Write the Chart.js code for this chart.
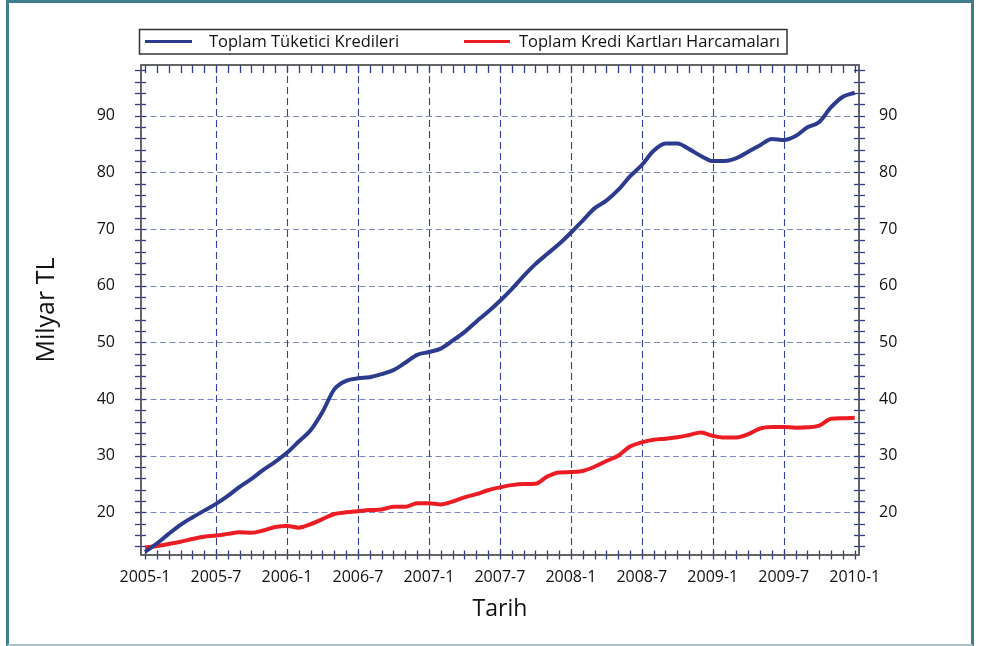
<!DOCTYPE html>
<html>
<head>
<meta charset="utf-8">
<script src="https://cdn.jsdelivr.net/npm/chart.js@4.4.1/dist/chart.umd.min.js"></script>
<style>
html,body{margin:0;padding:0;background:#fff;}
#wrap{width:983px;height:646px;position:relative;}
</style>
</head>
<body>
<div id="wrap"><canvas id="c" width="983" height="646"></canvas></div>
<script>
// ---- DATA ----
const months = [
  "2005-1","2005-2","2005-3","2005-4","2005-5","2005-6","2005-7","2005-8","2005-9","2005-10","2005-11","2005-12",
  "2006-1","2006-2","2006-3","2006-4","2006-5","2006-6","2006-7","2006-8","2006-9","2006-10","2006-11","2006-12",
  "2007-1","2007-2","2007-3","2007-4","2007-5","2007-6","2007-7","2007-8","2007-9","2007-10","2007-11","2007-12",
  "2008-1","2008-2","2008-3","2008-4","2008-5","2008-6","2008-7","2008-8","2008-9","2008-10","2008-11","2008-12",
  "2009-1","2009-2","2009-3","2009-4","2009-5","2009-6","2009-7","2009-8","2009-9","2009-10","2009-11","2009-12",
  "2010-1"
];
const consumerLoans = [
  13.0,14.5,16.2,17.8,19.1,20.3,21.5,22.9,24.5,25.9,27.5,28.9,
  30.5,32.5,34.5,37.7,41.7,43.2,43.65,43.85,44.4,45.1,46.4,47.8,
  48.3,48.9,50.3,51.8,53.65,55.4,57.3,59.4,61.7,63.8,65.6,67.35,
  69.35,71.5,73.65,75.0,76.9,79.3,81.3,83.8,85.1,85.1,84.1,82.9,
  82.0,82.0,82.5,83.65,84.8,85.9,85.7,86.4,87.95,88.9,91.5,93.35,
  94.05
];
const cardSpending = [
  13.8,14.05,14.4,14.8,15.3,15.7,15.9,16.2,16.5,16.4,16.8,17.4,
  17.6,17.3,17.9,18.8,19.7,20.0,20.2,20.4,20.5,21.0,21.0,21.6,
  21.6,21.4,21.9,22.65,23.2,23.9,24.4,24.8,25.0,25.05,26.3,27.05,
  27.1,27.3,28.05,29.05,30.0,31.6,32.35,32.8,33.0,33.25,33.65,34.1,
  33.5,33.2,33.2,33.8,34.8,35.05,35.05,34.95,35.0,35.3,36.5,36.6,
  36.7
];
const seriesNames = ["Toplam Tüketici Kredileri","Toplam Kredi Kartları Harcamaları"];
const xTickLabels = ["2005-1","2005-7","2006-1","2006-7","2007-1","2007-7","2008-1","2008-7","2009-1","2009-7","2010-1"];
const yTickValues = [20,30,40,50,60,70,80,90];
const yMinorValues = [14,16,18,20,22,24,26,28,30,32,34,36,38,40,42,44,46,48,50,52,54,56,58,60,62,64,66,68,70,72,74,76,78,80,82,84,86,88,90,92,94,96,98];

// ---- STYLE ----
const BLUE = '#2d3b8e';
const RED = '#ec1c24';
const FONT = '"Open Sans", "DejaVu Sans", sans-serif';
const xTickPos = xTickLabels.map(l => months.indexOf(l));

const framePlugin = {
  id: 'framePlugin',
  beforeDatasetsDraw(chart) {
    const {ctx, chartArea: a, scales} = chart;
    const xs = scales.x, ys = scales.y;
    ctx.save();
    ctx.setLineDash([6,3.5]);
    ctx.lineWidth = 1.2;
    ctx.strokeStyle = '#7c86c2';
    yTickValues.forEach(v => {
      const y = Math.round(ys.getPixelForValue(v)) + 0.5;
      ctx.beginPath(); ctx.moveTo(a.left, y); ctx.lineTo(a.right, y); ctx.stroke();
    });
    ctx.setLineDash([7,4]);
    ctx.lineWidth = 1.1;
    ctx.strokeStyle = '#33419a';
    xTickPos.forEach((m, i) => {
      if (i === 0 || i === xTickPos.length - 1) return;
      const x = Math.round(xs.getPixelForValue(m)) + 0.5;
      ctx.beginPath(); ctx.moveTo(x, a.top); ctx.lineTo(x, a.bottom); ctx.stroke();
    });
    ctx.setLineDash([]);
    ctx.strokeStyle = '#2b3990';
    ctx.lineWidth = 1.3;
    months.forEach((lbl, m) => {
      const x = Math.round(xs.getPixelForValue(m)) + 0.5;
      ctx.beginPath(); ctx.moveTo(x, a.bottom - 4.5); ctx.lineTo(x, a.bottom + 4.5); ctx.stroke();
      ctx.beginPath(); ctx.moveTo(x, a.top); ctx.lineTo(x, a.top + 8); ctx.stroke();
    });
    yMinorValues.forEach(v => {
      const y = Math.round(ys.getPixelForValue(v)) + 0.5;
      ctx.beginPath(); ctx.moveTo(a.left - 6, y); ctx.lineTo(a.left + 5, y); ctx.stroke();
      ctx.beginPath(); ctx.moveTo(a.right - 5, y); ctx.lineTo(a.right + 6, y); ctx.stroke();
    });
    ctx.strokeStyle = '#555';
    ctx.lineWidth = 1.8;
    ctx.strokeRect(a.left, a.top, a.right - a.left, a.bottom - a.top);
    ctx.restore();
  },
  afterDraw(chart) {
    const {ctx} = chart;
    ctx.save();
    ctx.lineWidth = 3;
    ctx.strokeStyle = '#3f7c8e';
    ctx.beginPath();
    ctx.moveTo(7.5, 646); ctx.lineTo(7.5, 1.5); ctx.lineTo(972.5, 1.5); ctx.lineTo(972.5, 646);
    ctx.stroke();
    ctx.strokeStyle = '#a7c3cc';
    ctx.lineWidth = 2;
    ctx.beginPath(); ctx.moveTo(7.5, 645); ctx.lineTo(972.5, 645); ctx.stroke();
    ctx.strokeStyle = '#333';
    ctx.lineWidth = 1.5;
    ctx.strokeRect(139.5, 29.5, 647.5, 24.5);
    const ly = 41.5;
    const items = [
      {color: chart.data.datasets[0].borderColor, x0: 145, x1: 192, tx: 209, text: chart.data.datasets[0].label},
      {color: chart.data.datasets[1].borderColor, x0: 464, x1: 510, tx: 519, text: chart.data.datasets[1].label}
    ];
    ctx.font = '16.5px ' + FONT;
    ctx.textBaseline = 'middle';
    ctx.textAlign = 'left';
    items.forEach(it => {
      ctx.strokeStyle = it.color;
      ctx.lineWidth = 3;
      ctx.beginPath(); ctx.moveTo(it.x0, ly); ctx.lineTo(it.x1, ly); ctx.stroke();
      ctx.fillStyle = '#111';
      ctx.fillText(it.text, it.tx, ly + 1);
    });
    ctx.restore();
  }
};

const yCommon = {
  type: 'linear',
  min: 12.47,
  max: 98.95,
  afterBuildTicks: s => { s.ticks = yTickValues.map(v => ({value: v})); },
  grid: {display: false, drawTicks: false},
  border: {display: false},
  ticks: {color: '#111', font: {family: FONT, size: 16}}
};

new Chart(document.getElementById('c'), {
  type: 'line',
  data: {
    datasets: [
      {
        label: seriesNames[0],
        data: consumerLoans.map((v, i) => ({x: i, y: v})),
        borderColor: BLUE,
        borderWidth: 4,
        pointRadius: 0,
        cubicInterpolationMode: 'monotone',
        fill: false
      },
      {
        label: seriesNames[1],
        data: cardSpending.map((v, i) => ({x: i, y: v})),
        borderColor: RED,
        borderWidth: 4,
        pointRadius: 0,
        cubicInterpolationMode: 'monotone',
        fill: false
      }
    ]
  },
  options: {
    responsive: false,
    animation: false,
    devicePixelRatio: 1,
    layout: {padding: {top: 65, left: 0, right: 0, bottom: 0}},
    plugins: {legend: {display: false}, tooltip: {enabled: false}},
    scales: {
      x: {
        type: 'linear',
        position: 'bottom',
        min: -0.34,
        max: 60.36,
        afterBuildTicks: s => { s.ticks = xTickPos.map(v => ({value: v})); },
        afterFit: s => { s.height = 91; },
        grid: {display: false, drawTicks: false},
        border: {display: false},
        ticks: {
          autoSkip: false, maxRotation: 0, padding: 13,
          color: '#111', font: {family: FONT, size: 16},
          callback: v => months[v]
        },
        title: {display: true, text: 'Tarih', color: '#111', font: {family: FONT, size: 23}, padding: {top: 0, bottom: 23}}
      },
      y: Object.assign({}, yCommon, {
        position: 'left',
        afterFit: s => { s.width = 141; },
        ticks: Object.assign({}, yCommon.ticks, {padding: 26}),
        title: {display: true, text: 'Milyar TL', color: '#111', font: {family: FONT, size: 25}, padding: {top: 32, bottom: 0}}
      }),
      y2: Object.assign({}, yCommon, {
        position: 'right',
        afterFit: s => { s.width = 124; },
        ticks: Object.assign({}, yCommon.ticks, {padding: 20})
      })
    }
  },
  plugins: [framePlugin]
});
</script>
</body>
</html>
